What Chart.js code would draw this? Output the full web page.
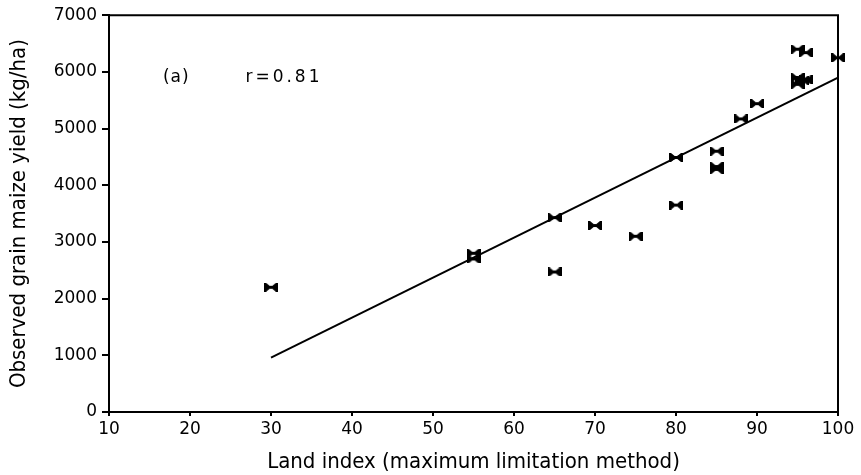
<!DOCTYPE html>
<html>
<head>
<meta charset="utf-8">
<script src="https://cdn.jsdelivr.net/npm/chart.js@4/dist/chart.umd.min.js"></script>
<style>
  html, body { margin: 0; padding: 0; background: #fff; }
  #wrap { width: 861px; height: 475px; }
</style>
</head>
<body>
<div id="wrap"><canvas id="c" width="861" height="475"></canvas></div>
<script>
// Land index vs observed grain maize yield
const landIndex = [30, 55, 55, 65, 65, 70, 75, 80, 80, 85, 85, 85, 88, 90, 95, 96, 95, 95, 95.6, 96, 100];
const yieldKgHa = [2200, 2800, 2700, 3430, 2470, 3290, 3100, 4490, 3650, 4600, 4330, 4280, 5170, 5440, 6400, 6340, 5900, 5780, 5850, 5860, 6250];

// Fitted regression line end points
const fitX = [30, 100];
const fitY = [960, 5900];

const xTicks = [10, 20, 30, 40, 50, 60, 70, 80, 90, 100];
const yTicks = [0, 1000, 2000, 3000, 4000, 5000, 6000, 7000];

const panelLabel = '(a)';
const corrLabel = 'r=0.81';

// Bow-tie marker with end bars
function makeMarker() {
  const m = document.createElement('canvas');
  m.width = 14; m.height = 9;
  const g = m.getContext('2d');
  g.fillStyle = '#000';
  g.fillRect(0, 0, 2, 9);
  g.fillRect(12, 0, 2, 9);
  g.beginPath();
  g.moveTo(2, 0); g.lineTo(7.5, 4.5); g.lineTo(2, 9); g.closePath();
  g.moveTo(12, 0); g.lineTo(6.5, 4.5); g.lineTo(12, 9); g.closePath();
  g.fill();
  g.fillRect(2, 3, 10, 3);
  return m;
}
const marker = makeMarker();

const points = landIndex.map((x, i) => ({ x: x, y: yieldKgHa[i] }));
const fitLine = fitX.map((x, i) => ({ x: x, y: fitY[i] }));

const frameAndText = {
  id: 'frameAndText',
  beforeDatasetsDraw(chart) {
    const { ctx, chartArea: a } = chart;
    ctx.save();
    ctx.strokeStyle = '#000';
    ctx.lineWidth = 2;
    ctx.beginPath();
    ctx.moveTo(a.left, a.top);
    ctx.lineTo(a.right, a.top);
    ctx.lineTo(a.right, a.bottom);
    ctx.stroke();
    ctx.restore();
  },
  afterDatasetsDraw(chart) {
    const { ctx, scales } = chart;
    ctx.save();
    ctx.fillStyle = '#000';
    ctx.font = '17px "DejaVu Sans"';
    ctx.textBaseline = 'middle';
    ctx.textAlign = 'center';
    ctx.letterSpacing = '1px';
    ctx.fillText(panelLabel, scales.x.getPixelForValue(18.3), scales.y.getPixelForValue(5900));
    ctx.letterSpacing = '3px';
    ctx.fillText(corrLabel, scales.x.getPixelForValue(31.6), scales.y.getPixelForValue(5900));
    ctx.restore();
  }
};

const tickFont = { family: 'DejaVu Sans', size: 17 };
const plain = v => String(v);

new Chart(document.getElementById('c'), {
  type: 'scatter',
  data: {
    datasets: [
      {
        type: 'line',
        data: fitLine,
        borderColor: '#000',
        borderWidth: 2,
        pointRadius: 0,
        fill: false,
        order: 2
      },
      {
        data: points,
        pointStyle: marker,
        pointRadius: 7,
        clip: false,
        order: 1
      }
    ]
  },
  options: {
    responsive: false,
    animation: false,
    events: [],
    layout: { padding: { top: 12, right: 23, left: 0, bottom: 0 } },
    plugins: { legend: { display: false }, tooltip: { enabled: false } },
    scales: {
      x: {
        type: 'linear',
        min: 10, max: 100,
        afterBuildTicks(s) { s.ticks = xTicks.map(v => ({ value: v })); },
        afterFit(s) { s.height = 63; },
        border: { display: true, color: '#000', width: 2 },
        grid: { drawOnChartArea: false, drawTicks: true, tickLength: 4, color: '#000', lineWidth: 2 },
        ticks: { color: '#000', font: tickFont, padding: 3, maxRotation: 0, callback: plain },
        title: {
          display: true,
          text: 'Land index (maximum limitation method)',
          color: '#000',
          font: { family: 'DejaVu Sans Condensed', size: 22 },
          padding: { top: 0, bottom: 0 }
        }
      },
      y: {
        type: 'linear',
        min: 0, max: 7000,
        afterBuildTicks(s) { s.ticks = yTicks.map(v => ({ value: v })); },
        afterFit(s) { s.width = 109; },
        border: { display: true, color: '#000', width: 2 },
        grid: { drawOnChartArea: false, drawTicks: true, tickLength: 7, color: '#000', lineWidth: 2 },
        ticks: { color: '#000', font: tickFont, padding: 5, callback: plain },
        title: {
          display: true,
          text: 'Observed grain maize yield (kg/ha)',
          color: '#000',
          font: { family: 'DejaVu Sans Condensed', size: 22 },
          padding: { top: 6, bottom: 0 }
        }
      }
    }
  },
  plugins: [frameAndText]
});
</script>
</body>
</html>
